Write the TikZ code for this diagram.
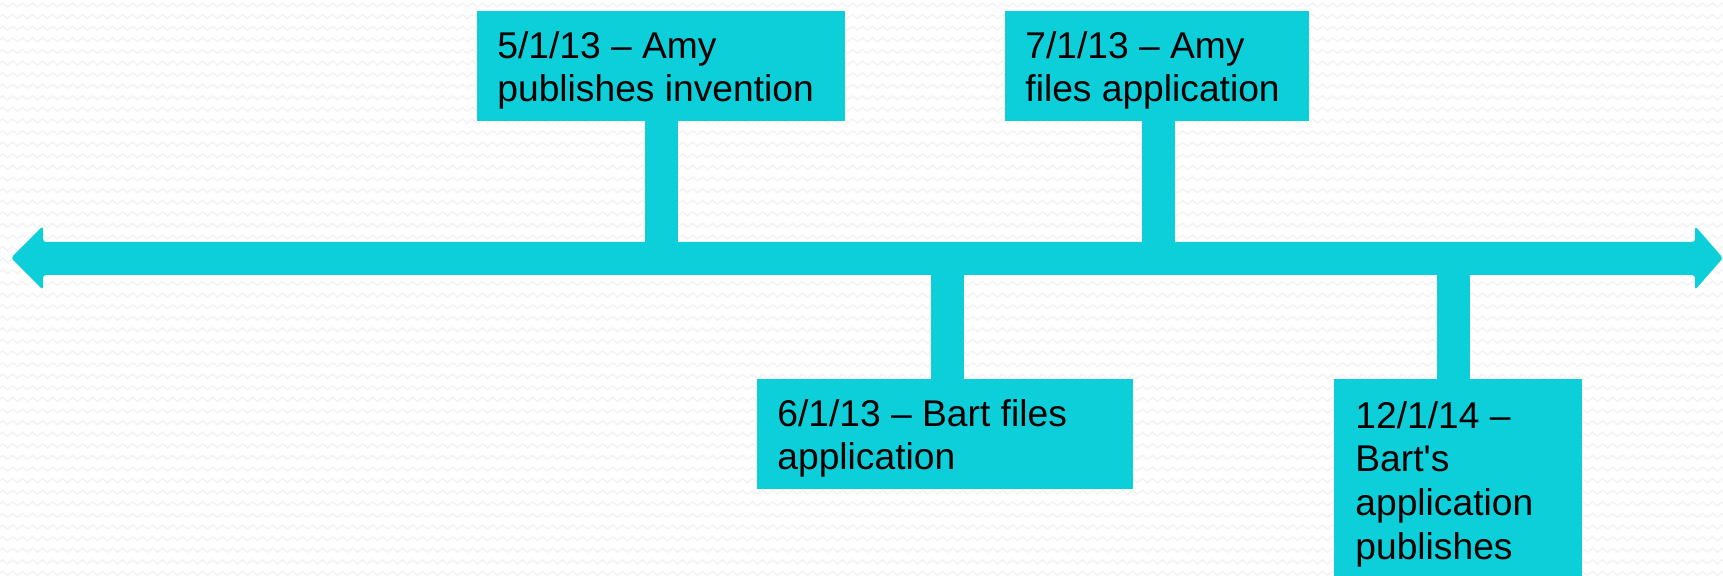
\documentclass[tikz,border=0pt]{standalone}
\usepackage{fontspec}
\setmainfont{Liberation Sans}
\usetikzlibrary{fit,decorations.pathmorphing}
\definecolor{tlcyan}{RGB}{13,207,218}
\definecolor{texture}{RGB}{242,242,242}
\begin{document}
\begin{tikzpicture}[x=0.5pt,y=-0.5pt,
  eventbox/.style={fill=tlcyan, draw=none, inner sep=0pt},
  eventtext/.style={anchor=north west, inner sep=0pt, align=left,
    font=\fontsize{18.6}{21.8}\selectfont, text=black},
  stem/.style={draw=tlcyan, line width=16.5pt},
  wave/.style={draw=texture, line width=0.6pt, decorate,
    decoration={zigzag, segment length=5pt, amplitude=1pt}}]
  \path[use as bounding box, clip] (0,0) rectangle (1723,576);
  \fill[white] (0,0) rectangle (1723,576);
  % faint zigzag background texture
  \foreach \r in {0,...,50}
    \draw[wave] (-10,\r*11.6+5) -- (1740,\r*11.6+5);

  % timeline axis with arrowheads at both ends
  \coordinate (axis) at (861,258);
  \coordinate (lefttip) at (11,258);
  \coordinate (righttip) at (1723,258);
  \fill[tlcyan, rounded corners=1.5pt]
    (lefttip) -- (43,226) -- (43,242) -- (1695,242) -- (1695,226) -- (righttip)
    -- (1695,290) -- (1695,275) -- (43,275) -- (43,290) -- cycle;

  % event boxes
  \node[eventbox, fit={(477,11) (845,121)}] (b1) {};
  \node[eventbox, fit={(1005,11) (1309,121)}] (b2) {};
  \node[eventbox, fit={(757,379) (1133,489)}] (b3) {};
  \node[eventbox, fit={(1334,379) (1582,600)}] (b4) {};

  % stems joining each box to the axis
  \draw[stem] ([xshift=0.25pt]b1.south) -- ([xshift=0.25pt]b1.south |- axis);
  \draw[stem] ([xshift=0.75pt]b2.south) -- ([xshift=0.75pt]b2.south |- axis);
  \draw[stem] ([xshift=1pt]b3.north) -- ([xshift=1pt]b3.north |- axis);
  \draw[stem] ([xshift=-2.25pt]b4.north) -- ([xshift=-2.25pt]b4.north |- axis);

  % labels
  \node[eventtext] (t1) at (497,31) {5/1/13 – Amy\\publishes invention};
  \node[eventtext] (t2) at (1025,31) {7/1/13 – Amy\\files application};
  \node[eventtext] (t3) at (777,399) {6/1/13 – Bart files\\application};
  \node[eventtext] (t4) at (1355,401) {12/1/14 –\\Bart\textquotesingle s\\application\\publishes};
\end{tikzpicture}
\end{document}
